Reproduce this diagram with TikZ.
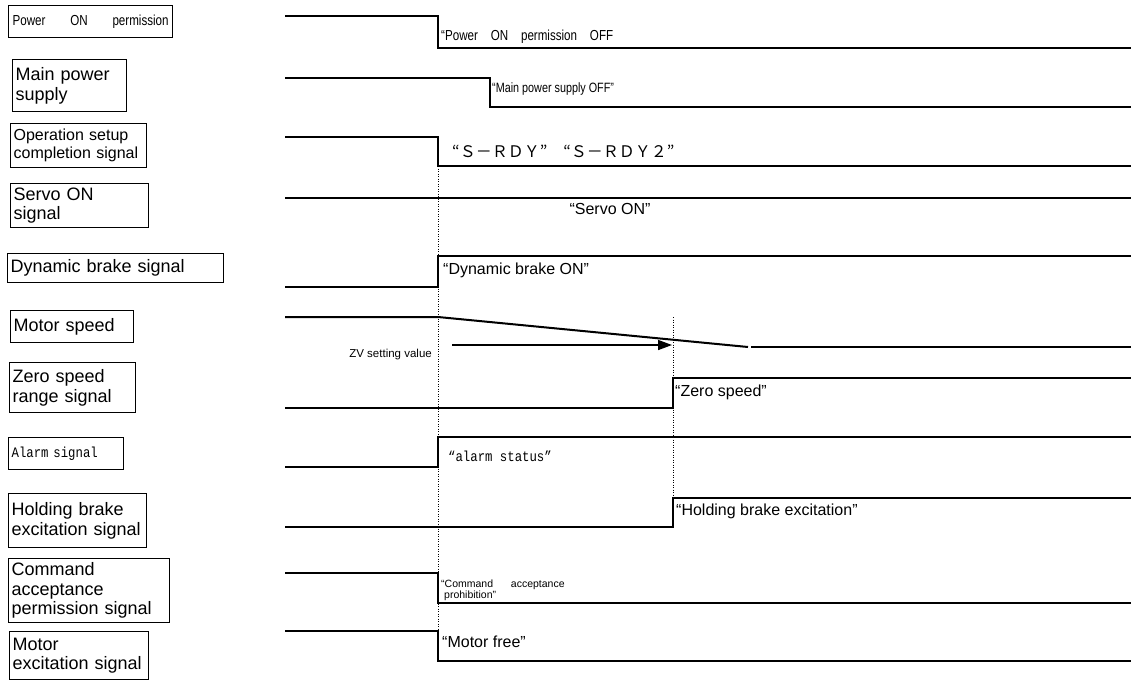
\documentclass[tikz,border=0pt]{standalone}
\usepackage{fontspec}
\setmainfont{Liberation Sans}
\newfontfamily\narrowfnt[FakeStretch=0.8]{Liberation Sans}
\newfontfamily\monofnt[FakeStretch=0.85]{Liberation Mono}
\newfontfamily\cjkfnt{Noto Sans CJK JP}
\usetikzlibrary{arrows.meta}
\begin{document}
\begin{tikzpicture}[x=1pt,y=-1pt,
  lbl/.style={draw,line width=1.3pt,anchor=north west,inner xsep=3pt,inner ysep=0pt,
    align=left,font=\fontsize{18}{19.5}\selectfont},
  sig/.style={line width=2pt,line join=miter},
  guide/.style={line width=1pt,dash pattern=on 1pt off 1.5pt},
  note/.style={inner sep=0pt,anchor=base west,font=\fontsize{16}{17}\selectfont}]
\fill[white] (0,0) rectangle (1131,680);
\useasboundingbox (0,0) rectangle (1131,680);

% ---- label boxes ----
\node[lbl,inner xsep=4pt,text width=156pt,minimum height=32pt,font=\narrowfnt\fontsize{14.5}{15}\selectfont] (pon) at (8,5)
  {\makebox[156pt][s]{Power\hfill ON\hfill permission}};
\node[lbl,text width=108pt,minimum height=52pt] (mps) at (12,59) {Main power\\supply};
\node[lbl,text width=130pt,minimum height=44pt,font=\fontsize{16}{18}\selectfont] (osc) at (10,123) {Operation setup\\completion signal};
\node[lbl,text width=132pt,minimum height=44pt] (son) at (10,183) {Servo ON\\signal};
\node[lbl,text width=210pt,minimum height=29pt] (dbs) at (7,253) {Dynamic brake signal};
\node[lbl,text width=117pt,minimum height=32pt] (msp) at (10,310) {Motor speed};
\node[lbl,text width=120pt,minimum height=50pt] (zsr) at (9,362) {Zero speed\\range signal};
\node[lbl,text width=109pt,minimum height=32pt,font=\monofnt\fontsize{14.5}{15}\selectfont] (als) at (8,437) {Alarm signal};
\node[lbl,text width=132pt,minimum height=54pt] (hbe) at (8,493) {Holding brake\\excitation signal};
\node[lbl,text width=155pt,minimum height=64pt] (cap) at (8,558) {Command\\acceptance\\permission signal};
\node[lbl,text width=133pt,minimum height=48pt] (mex) at (9,631) {Motor\\excitation signal};

% ---- waveforms ----
\draw[sig] (285,16) -- (438,16) -- (438,48) -- (1131,48);
\draw[sig] (285,78) -- (490,78) -- (490,107) -- (1131,107);
\draw[sig] (285,137) -- (438,137) -- (438,166) -- (1131,166);
\draw[sig] (285,198) -- (1131,198);
\draw[sig] (285,287) -- (438,287) -- (438,256) -- (1131,256);
\draw[sig] (285,317) -- (438,317) -- (748,347);
\draw[sig] (751,347) -- (1131,347);
\draw[sig] (285,408) -- (673,408) -- (673,378) -- (1131,378);
\draw[sig] (285,467) -- (438,467) -- (438,437) -- (1131,437);
\draw[sig] (285,527) -- (673,527) -- (673,498) -- (1131,498);
\draw[sig] (285,573) -- (438,573) -- (438,603) -- (1131,603);
\draw[sig] (285,631) -- (438,631) -- (438,661) -- (1131,661);

% ---- timing guides ----
\coordinate (g1a) at (438,166);
\coordinate (g1b) at (438,631);
\coordinate (g2a) at (673,317);
\coordinate (g2b) at (673,498);
\draw[guide] (g1a) -- (g1b);
\draw[guide] (g2a) -- (g2b);

% ---- ZV arrow ----
\coordinate (zvs) at (452,345);
\coordinate (zve) at (672,345);
\draw[line width=1.5pt,-{Triangle[length=14pt,width=10pt]}] (zvs) -- (zve);
\node[note,anchor=base east,font=\fontsize{11.5}{12}\selectfont] (zvl) at (432,357) {ZV setting value};

% ---- state labels ----
\node[note,font=\narrowfnt\fontsize{14.5}{15}\selectfont] (t1) at (441,40)
  {\makebox[172pt][s]{“Power\hfill ON\hfill permission\hfill OFF}};
\node[note,font=\narrowfnt\fontsize{13.5}{14}\selectfont] (t2) at (492,92) {“Main power supply OFF”};
\node[note,font=\cjkfnt\fontsize{16}{17}\selectfont] (t3) at (452,157) {“Ｓ－ＲＤＹ”　“Ｓ－ＲＤＹ２”};
\node[note,anchor=base] (t4) at (610,214) {“Servo ON”};
\node[note] (t5) at (443,274) {“Dynamic brake ON”};
\node[note] (t6) at (675,396) {“Zero speed”};
\node[note,font=\monofnt\fontsize{14.5}{15}\selectfont] (t7) at (448,461) {“alarm status”};
\node[note] (t8) at (676,515) {“Holding brake excitation”};
\node[note,font=\fontsize{10.5}{11}\selectfont] (t9) at (441,587) {“Command\hspace{1.7em}acceptance};
\node[note,font=\fontsize{10.5}{11}\selectfont] (t10) at (444,598) {prohibition”};
\node[note] (t11) at (442,647) {“Motor free”};
\end{tikzpicture}
\end{document}
